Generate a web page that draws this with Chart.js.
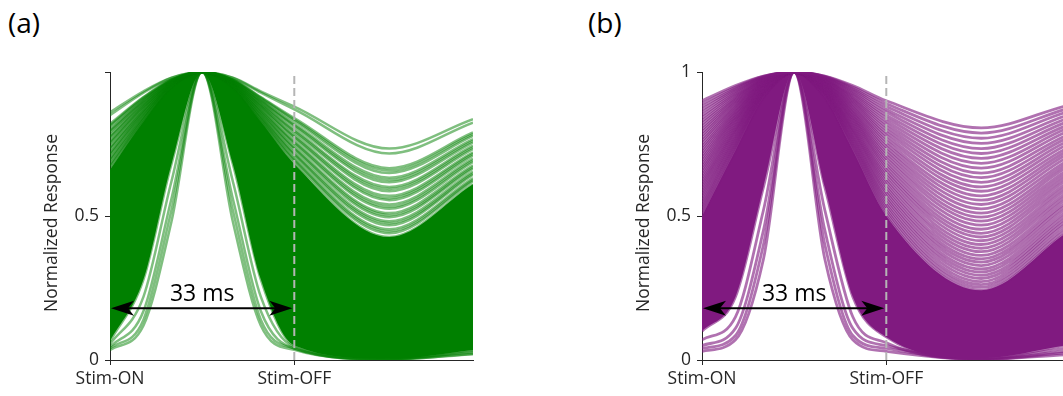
<!DOCTYPE html>
<html>
<head>
<meta charset="utf-8">
<title>Normalized responses</title>
<script src="https://cdn.jsdelivr.net/npm/chart.js@4.4.1/dist/chart.umd.min.js"></script>
<style>
  html, body { margin: 0; padding: 0; background: #fff; overflow: hidden; }
  body { width: 1063px; height: 396px; position: relative; font-family: "Open Sans", sans-serif; }
  .panel { position: absolute; top: 0; width: 520px; height: 396px; }
  .tag { position: absolute; top: 8px; font-size: 28px; line-height: 1; color: #000; }
</style>
</head>
<body>
<div class="tag" style="left:8px">(a)</div>
<div class="tag" style="left:588px">(b)</div>
<div class="panel" style="left:0"><canvas id="chartA" width="520" height="396"></canvas></div>
<div class="panel" style="left:592px"><canvas id="chartB" width="520" height="396"></canvas></div>

<script>
// sample times in ms after stimulus onset; every response peaks at 16.5 ms
const sampleTimes = [0, 6, 11, 16.5, 22, 27, 33, 50, 65];
const peakLevel = 1;
const stimOn = 0;
const stimOff = 33;
const arrowLevel = 0.18;

const xTickValues = [0, 33];
const xTickLabels = ['Stim-ON', 'Stim-OFF'];
const yTickValues = [0, 0.5, 1];
const yTickLabelsA = ['0', '0.5', ''];
const yTickLabelsB = ['0', '0.5', '1'];
const yTitle = 'Normalized Response';

// panel (a), one entry per cell
const onsetA = [0.86, 0.85, 0.82, 0.815, 0.81, 0.80, 0.795, 0.79, 0.78, 0.775, 0.77, 0.76, 0.755, 0.75, 0.74, 0.735,
  0.73, 0.72, 0.715, 0.71, 0.70, 0.695, 0.69, 0.68, 0.675, 0.67, 0.66, 0.655, 0.65, 0.64, 0.635, 0.63,
  0.62, 0.58, 0.54, 0.50, 0.45, 0.40, 0.35, 0.30, 0.25, 0.20, 0.15, 0.11,
  0.065, 0.055, 0.045, 0.04, 0.035];
const flankA = [0.933, 0.928, 0.913, 0.911, 0.908, 0.903, 0.900, 0.898, 0.893, 0.890, 0.887, 0.882, 0.880, 0.877, 0.871, 0.868,
  0.866, 0.860, 0.858, 0.855, 0.849, 0.846, 0.844, 0.838, 0.836, 0.833, 0.827, 0.824, 0.821, 0.815, 0.812, 0.809,
  0.803, 0.779, 0.754, 0.728, 0.694, 0.657, 0.618, 0.576, 0.530, 0.479, 0.420, 0.364,
  0.28, 0.22, 0.17, 0.14, 0.12];
const shoulderA = [0.980, 0.979, 0.974, 0.973, 0.972, 0.971, 0.970, 0.969, 0.967, 0.966, 0.966, 0.964, 0.963, 0.962, 0.961, 0.960,
  0.959, 0.957, 0.956, 0.955, 0.954, 0.953, 0.952, 0.950, 0.949, 0.948, 0.946, 0.945, 0.944, 0.942, 0.941, 0.940,
  0.938, 0.930, 0.921, 0.912, 0.899, 0.885, 0.869, 0.852, 0.831, 0.807, 0.777, 0.745,
  0.68, 0.62, 0.56, 0.52, 0.48];
const offsetA = [0.88, 0.87, 0.84, 0.835, 0.83, 0.82, 0.815, 0.81, 0.80, 0.795, 0.79, 0.78, 0.775, 0.77, 0.76, 0.755,
  0.75, 0.74, 0.735, 0.73, 0.72, 0.715, 0.71, 0.70, 0.695, 0.69, 0.68, 0.675, 0.67, 0.66, 0.655, 0.65,
  0.64, 0.60, 0.56, 0.52, 0.47, 0.42, 0.36, 0.31, 0.26, 0.20, 0.14, 0.09,
  0.05, 0.045, 0.04, 0.04, 0.035];
const troughA = [0.734, 0.717, 0.666, 0.658, 0.649, 0.633, 0.625, 0.617, 0.601, 0.594, 0.586, 0.570, 0.562, 0.555, 0.540, 0.532,
  0.525, 0.510, 0.503, 0.496, 0.482, 0.475, 0.468, 0.454, 0.447, 0.440, 0.427, 0.420, 0.414, 0.401, 0.394, 0.388,
  0.376, 0.328, 0.283, 0.242, 0.195, 0.153, 0.116, 0.085, 0.058, 0.037, 0.021, 0.011,
  0.004, 0.003, 0.003, 0.002, 0.002];
const tailA = [0.836, 0.824, 0.790, 0.784, 0.778, 0.767, 0.761, 0.755, 0.744, 0.738, 0.732, 0.721, 0.716, 0.710, 0.699, 0.693,
  0.687, 0.676, 0.670, 0.665, 0.654, 0.648, 0.643, 0.632, 0.626, 0.621, 0.610, 0.604, 0.599, 0.588, 0.582, 0.577,
  0.566, 0.523, 0.480, 0.438, 0.386, 0.336, 0.286, 0.238, 0.192, 0.147, 0.104, 0.072,
  0.035, 0.030, 0.027, 0.022, 0.020];
const bandA = [0.66, 0.065];   // onset values of the two curves that bound the dense core

// panel (b)
const onsetB = [0.90, 0.89, 0.88, 0.87, 0.86, 0.85, 0.84, 0.83, 0.82, 0.81, 0.80, 0.79, 0.78, 0.77, 0.76, 0.75, 0.74, 0.73, 0.72, 0.71,
  0.70, 0.69, 0.68, 0.67, 0.66, 0.65, 0.64, 0.63, 0.62, 0.61, 0.60, 0.59, 0.58, 0.57, 0.56, 0.55, 0.54, 0.53, 0.52, 0.51,
  0.50, 0.45, 0.40, 0.35, 0.30, 0.25, 0.20, 0.15, 0.10,
  0.07, 0.05, 0.04, 0.03];
const flankB = [0.953, 0.948, 0.943, 0.938, 0.933, 0.928, 0.923, 0.918, 0.913, 0.908, 0.903, 0.898, 0.893, 0.887, 0.882, 0.877, 0.871, 0.866, 0.860, 0.855,
  0.849, 0.844, 0.838, 0.833, 0.827, 0.821, 0.815, 0.809, 0.803, 0.798, 0.792, 0.786, 0.779, 0.773, 0.767, 0.760, 0.754, 0.748, 0.741, 0.734,
  0.728, 0.694, 0.657, 0.618, 0.576, 0.530, 0.479, 0.420, 0.22,
  0.15, 0.11, 0.085, 0.07];
const shoulderB = [0.986, 0.985, 0.983, 0.982, 0.980, 0.979, 0.977, 0.975, 0.974, 0.972, 0.971, 0.969, 0.967, 0.966, 0.964, 0.962, 0.961, 0.959, 0.957, 0.955,
  0.954, 0.952, 0.950, 0.948, 0.946, 0.944, 0.942, 0.940, 0.938, 0.936, 0.934, 0.932, 0.930, 0.928, 0.926, 0.924, 0.921, 0.919, 0.917, 0.914,
  0.912, 0.899, 0.885, 0.869, 0.852, 0.831, 0.807, 0.777, 0.60,
  0.52, 0.45, 0.40, 0.35];
const offsetB = [0.90, 0.89, 0.88, 0.87, 0.86, 0.85, 0.84, 0.83, 0.82, 0.81, 0.80, 0.79, 0.78, 0.77, 0.76, 0.75, 0.74, 0.73, 0.72, 0.71,
  0.70, 0.69, 0.68, 0.67, 0.66, 0.65, 0.64, 0.63, 0.62, 0.61, 0.60, 0.59, 0.58, 0.57, 0.56, 0.55, 0.54, 0.53, 0.52, 0.51,
  0.50, 0.45, 0.40, 0.35, 0.30, 0.25, 0.20, 0.15, 0.08,
  0.06, 0.05, 0.04, 0.03];
const troughB = [0.806, 0.788, 0.770, 0.752, 0.734, 0.717, 0.700, 0.683, 0.666, 0.649, 0.633, 0.617, 0.601, 0.586, 0.570, 0.555, 0.540, 0.525, 0.510, 0.496,
  0.482, 0.468, 0.454, 0.440, 0.427, 0.414, 0.401, 0.388, 0.376, 0.363, 0.351, 0.340, 0.328, 0.316, 0.305, 0.294, 0.283, 0.272, 0.262, 0.252,
  0.242, 0.195, 0.153, 0.116, 0.085, 0.058, 0.037, 0.021, 0.006,
  0.004, 0.003, 0.002, 0.002];
const tailB = [0.882, 0.870, 0.859, 0.847, 0.836, 0.824, 0.812, 0.801, 0.790, 0.778, 0.767, 0.755, 0.744, 0.732, 0.721, 0.710, 0.699, 0.687, 0.676, 0.665,
  0.654, 0.643, 0.632, 0.621, 0.610, 0.599, 0.588, 0.577, 0.566, 0.555, 0.544, 0.534, 0.523, 0.512, 0.501, 0.490, 0.480, 0.470, 0.459, 0.448,
  0.438, 0.386, 0.336, 0.286, 0.238, 0.192, 0.147, 0.104, 0.050,
  0.040, 0.030, 0.025, 0.018];
const bandB = [0.50, 0.10];

const axisColor = '#262626';
const labelFont = { family: '"Open Sans", sans-serif', size: 17.5 };

function curvePoints(on, fl, sh, off, tr, tl) {
  const ys = [on, fl, sh, peakLevel, sh, fl, off, tr, tl];
  return sampleTimes.map((t, i) => ({ x: t, y: ys[i] }));
}

function buildDatasets(on, fl, sh, off, tr, tl, band, lineColor, lineWidth, solidColor) {
  const top = on.indexOf(band[0]);
  const bottom = on.indexOf(band[1]);
  return on.map((v, i) => ({
    data: curvePoints(on[i], fl[i], sh[i], off[i], tr[i], tl[i]),
    borderColor: lineColor,
    borderWidth: lineWidth,
    backgroundColor: solidColor,
    fill: i === top ? bottom : false,
    pointRadius: 0,
    cubicInterpolationMode: 'monotone'
  }));
}

function arrowHead(ctx, tipX, tipY, dir) {
  const len = 23, half = 7.5, notch = 17;
  ctx.beginPath();
  ctx.moveTo(tipX, tipY);
  ctx.lineTo(tipX + dir * len, tipY - half);
  ctx.lineTo(tipX + dir * notch, tipY);
  ctx.lineTo(tipX + dir * len, tipY + half);
  ctx.closePath();
  ctx.fill();
}

// stimulus-offset marker, duration arrow and the y-axis title
const markers = {
  id: 'markers',
  afterDatasetsDraw(chart) {
    const { ctx, chartArea, scales: { x, y } } = chart;
    const xOn = x.getPixelForValue(stimOn);
    const xOff = x.getPixelForValue(stimOff);
    ctx.save();
    ctx.strokeStyle = '#b5b5b5';
    ctx.lineWidth = 2;
    ctx.setLineDash([8, 4]);
    ctx.beginPath();
    ctx.moveTo(xOff, y.getPixelForValue(0));
    ctx.lineTo(xOff, y.getPixelForValue(1));
    ctx.stroke();

    const yA = y.getPixelForValue(arrowLevel);
    ctx.setLineDash([]);
    ctx.strokeStyle = '#000';
    ctx.fillStyle = '#000';
    ctx.lineWidth = 2;
    ctx.beginPath();
    ctx.moveTo(xOn + 12, yA);
    ctx.lineTo(xOff - 14, yA);
    ctx.stroke();
    arrowHead(ctx, xOn + 1, yA, 1);
    arrowHead(ctx, xOff - 2, yA, -1);

    ctx.font = '23px "Open Sans", sans-serif';
    ctx.textAlign = 'center';
    ctx.textBaseline = 'alphabetic';
    ctx.fillText(`${stimOff - stimOn} ms`, (xOn + xOff) / 2, yA - 7);

    // axis title sits a little below the axis midpoint
    ctx.translate(chartArea.left - 58, (chartArea.top + chartArea.bottom) / 2 + 7);
    ctx.rotate(-Math.PI / 2);
    ctx.fillStyle = axisColor;
    ctx.font = `${labelFont.size}px ${labelFont.family}`;
    ctx.textBaseline = 'middle';
    ctx.fillText(yTitle, 0, 0);
    ctx.restore();
  }
};

function makeChart(id, datasets, yLabels) {
  return new Chart(document.getElementById(id), {
    type: 'line',
    data: { datasets },
    options: {
      responsive: false,
      animation: false,
      events: [],
      layout: { padding: { left: 38, top: 72, right: 47, bottom: 0 } },
      plugins: { legend: { display: false }, tooltip: { enabled: false } },
      scales: {
        x: {
          type: 'linear',
          min: 0,
          max: 65,
          z: 1,
          afterBuildTicks: s => { s.ticks = xTickValues.map(v => ({ value: v })); },
          afterFit: s => { s.height = 36; },
          ticks: {
            callback: (v, i) => xTickLabels[i],
            font: labelFont,
            color: axisColor,
            padding: 4,
            maxRotation: 0,
            autoSkip: false
          },
          grid: { drawOnChartArea: false, drawTicks: true, tickLength: 5, color: axisColor },
          border: { display: true, color: axisColor, width: 1 }
        },
        y: {
          min: 0,
          max: 1,
          z: 1,
          afterBuildTicks: s => { s.ticks = yTickValues.map(v => ({ value: v })); },
          afterFit: s => { s.width = 72; },
          ticks: { callback: (v, i) => yLabels[i], font: labelFont, color: axisColor, padding: 6 },
          grid: { drawOnChartArea: false, drawTicks: true, tickLength: 5, color: axisColor },
          border: { display: true, color: axisColor, width: 1 }
        }
      }
    },
    plugins: [markers]
  });
}

makeChart('chartA',
  buildDatasets(onsetA, flankA, shoulderA, offsetA, troughA, tailA, bandA, 'rgba(0,128,0,0.5)', 2.5, 'rgb(0,128,0)'),
  yTickLabelsA);
makeChart('chartB',
  buildDatasets(onsetB, flankB, shoulderB, offsetB, troughB, tailB, bandB, 'rgba(128,26,128,0.62)', 2.8, 'rgb(128,26,128)'),
  yTickLabelsB);
</script>
</body>
</html>
